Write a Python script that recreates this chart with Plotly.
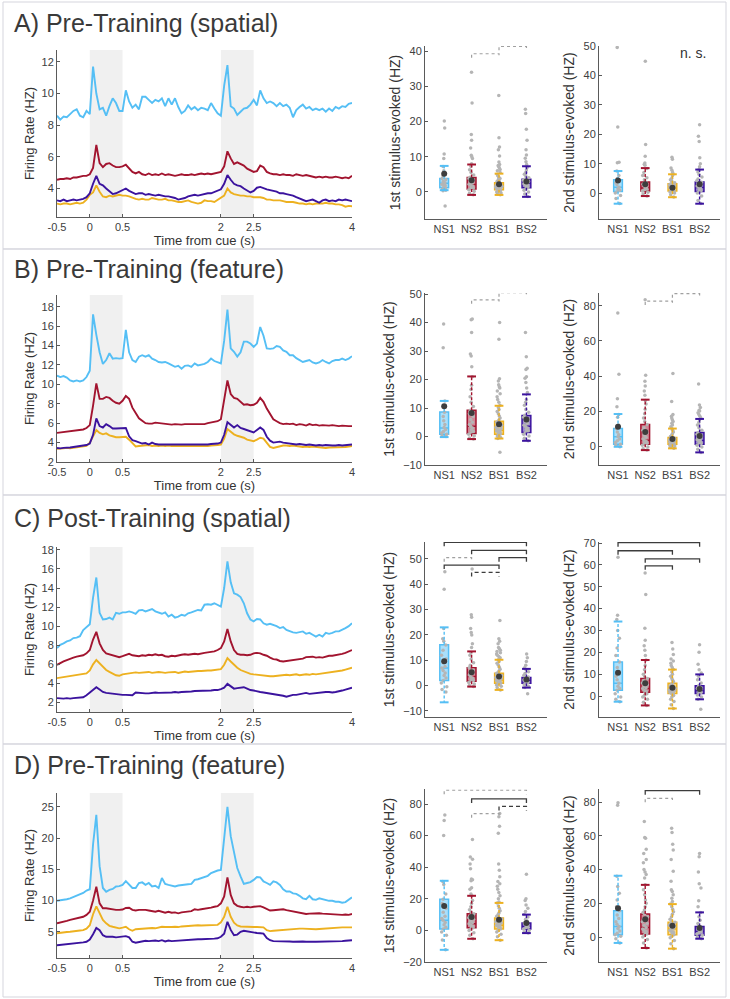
import numpy as np
import plotly.graph_objects as go

W, H = 730, 999
FONT = "Liberation Sans, Arial, sans-serif"

# ---- shared axes ----
time_s = np.round(np.arange(-0.5, 4.0001, 0.05), 2)
time_ticks = [-0.5, 0, 0.5, 2, 2.5, 4]
time_ticktext = ["-0.5", "0", "0.5", "2", "2.5", "4"]
cue_windows = [(0, 0.5), (2, 2.5)]
groups = ["NS1", "NS2", "BS1", "BS2"]
group_colors = ["#55BFF5", "#A2142F", "#EDB120", "#3B139E"]
group_fills = ["rgba(85,191,245,0.5)", "rgba(162,20,47,0.5)",
               "rgba(237,177,32,0.5)", "rgba(59,19,158,0.5)"]

# ---- firing rate traces (Hz), t = -0.5 .. 4 s ----
A_NS1 = [8.6, 8.35, 8.55, 8.5, 8.7, 8.9, 9.0, 8.6, 8.5, 8.9,
         8.7, 11.7, 10.0, 9.0, 9.1, 8.6, 9.2, 9.7, 9.4, 8.9,
         8.9, 10.2, 9.5, 9.1, 9.3, 9.0, 9.8, 9.8, 9.6, 9.4,
         9.6, 9.5, 9.7, 9.2, 9.7, 9.3, 9.7, 9.15, 8.75, 8.9,
         9.25, 9.0, 9.15, 8.95, 9.1, 9.05, 8.95, 9.4, 9.05, 8.75,
         8.6, 10.5, 11.8, 9.2, 9.05, 8.65, 8.85, 9.05, 9.1, 9.3,
         9.6, 9.25, 10.2, 9.7, 9.4, 9.5, 9.4, 9.2, 9.4, 9.2,
         9.3, 9.1, 8.5, 8.95, 9.15, 9.3, 9.05, 9.15, 8.95, 9.05,
         8.95, 9.05, 8.85, 9.05, 8.9, 9.15, 9.05, 9.2, 9.15, 9.35,
         9.4]
A_NS2 = [4.55, 4.6, 4.6, 4.65, 4.6, 4.7, 4.7, 4.75, 4.8, 4.8,
         4.9, 5.3, 6.75, 5.6, 5.35, 5.55, 5.6, 5.45, 5.35, 5.35,
         5.4, 5.5, 5.25, 5.05, 4.95, 5.05, 4.9, 4.85, 4.95, 4.85,
         4.9, 4.85, 4.95, 4.85, 4.9, 4.85, 4.8, 4.85, 4.9, 4.85,
         4.85, 4.9, 4.85, 4.9, 4.95, 4.9, 4.95, 4.9, 4.95, 5.0,
         5.05, 5.4, 6.35, 5.9, 5.55, 5.65, 5.55, 5.45, 5.25, 5.15,
         5.05, 5.1, 5.45, 5.35, 5.05, 4.95, 4.9, 4.9, 4.85, 4.9,
         4.85, 4.85, 4.8, 4.9, 4.85, 4.8, 4.85, 4.8, 4.75, 4.7,
         4.75, 4.7, 4.75, 4.7, 4.7, 4.75, 4.7, 4.65, 4.7, 4.65,
         4.8]
A_BS1 = [3.05, 3.0, 3.05, 3.05, 3.0, 3.05, 3.1, 3.05, 3.1, 3.3,
         3.6, 3.75, 4.2, 3.8, 3.5, 3.45, 3.55, 3.5, 3.55, 3.6,
         3.55, 3.55, 3.5, 3.4, 3.35, 3.3, 3.35, 3.3, 3.3, 3.4,
         3.35, 3.3, 3.3, 3.35, 3.25, 3.25, 3.2, 3.15, 3.15, 3.2,
         3.25, 3.15, 3.1, 3.05, 3.1, 3.25, 3.2, 3.2, 3.15, 3.3,
         3.4, 3.55, 4.0, 3.75, 3.65, 3.6, 3.55, 3.55, 3.5, 3.5,
         3.45, 3.45, 3.45, 3.4, 3.3, 3.3, 3.25, 3.25, 3.25, 3.2,
         3.15, 3.15, 3.15, 3.1, 3.05, 3.05, 3.0, 3.05, 3.0, 3.05,
         3.05, 3.05, 3.1, 3.05, 3.05, 3.0, 3.0, 2.95, 2.85, 2.9,
         2.88]
A_BS2 = [3.25, 3.2, 3.3, 3.2, 3.25, 3.3, 3.25, 3.3, 3.35, 3.45,
         3.7, 4.3, 4.8, 4.3, 4.2, 4.0, 3.85, 3.65, 3.7, 3.8,
         3.9, 4.0, 3.85, 3.75, 3.65, 3.7, 3.7, 3.6, 3.65, 3.6,
         3.55, 3.6, 3.55, 3.5, 3.5, 3.45, 3.4, 3.3, 3.35, 3.4,
         3.5, 3.55, 3.6, 3.55, 3.6, 3.65, 3.7, 3.7, 3.8, 3.85,
         3.95, 4.3, 4.85, 4.55, 4.3, 4.2, 4.15, 4.0, 3.85, 3.75,
         3.85, 4.05, 4.1, 4.0, 3.95, 3.9, 3.85, 3.8, 3.7, 3.7,
         3.65, 3.6, 3.55, 3.45, 3.35, 3.3, 3.2, 3.25, 3.3, 3.2,
         3.1, 3.25, 3.3, 3.2, 3.25, 3.2, 3.3, 3.25, 3.3, 3.25,
         3.2]

B_NS1 = [10.9, 10.75, 10.85, 10.7, 10.4, 10.3, 10.4, 10.3, 10.4, 10.75,
         11.4, 17.2, 15.1, 13.3, 12.1, 12.5, 13.2, 12.65, 12.7, 12.65,
         12.7, 15.6, 13.3, 12.5, 12.3, 12.85, 13.0, 12.85, 13.0, 12.65,
         12.5, 12.3, 12.25, 12.3, 12.15, 11.95, 11.8, 11.9, 11.6, 11.9,
         11.95, 11.8, 12.15, 11.95, 12.0, 12.1, 12.3, 12.65, 12.4, 12.25,
         12.15, 14.5, 17.7, 13.7, 13.35, 12.85, 13.3, 14.4, 14.4, 14.2,
         13.85, 14.2, 15.9, 15.0, 13.7, 13.65, 13.7, 13.95, 13.85, 13.5,
         13.35, 13.0, 13.0, 12.7, 12.5, 12.3, 12.4, 12.5, 12.25, 12.15,
         12.25, 12.5, 12.3, 12.15, 12.4, 12.5, 12.5, 12.65, 12.5, 12.65,
         12.9]
B_NS2 = [5.0, 5.05, 5.1, 5.1, 5.15, 5.2, 5.25, 5.3, 5.35, 5.5,
         5.8, 7.8, 10.1, 8.5, 8.5, 8.7, 8.6, 8.3, 8.1, 8.0,
         8.3, 8.8, 8.5, 7.6, 7.0, 6.5, 6.25, 6.0, 5.95, 5.95,
         6.05, 6.0, 5.95, 5.9, 5.85, 5.85, 5.9, 5.85, 5.85, 5.9,
         5.9, 5.95, 5.9, 5.9, 5.95, 5.9, 6.0, 6.05, 6.1, 6.2,
         6.4, 8.5, 10.4, 9.0, 8.6, 8.5, 8.2, 7.9, 7.95, 7.85,
         7.9, 8.1, 8.6, 8.2, 7.5, 6.9, 6.4, 6.2, 6.0, 5.9,
         5.95, 5.9, 5.95, 5.8, 5.9, 5.85, 5.75, 5.9, 5.8, 5.85,
         5.75, 5.8, 5.75, 5.75, 5.8, 5.75, 5.7, 5.75, 5.7, 5.7,
         5.7]
B_BS1 = [3.35, 3.35, 3.4, 3.45, 3.4, 3.45, 3.5, 3.5, 3.55, 3.65,
         4.0, 4.6, 5.3, 5.0, 4.85, 4.95, 4.75, 4.65, 4.55, 4.55,
         4.6, 4.6, 4.3, 3.9, 3.6, 3.65, 3.7, 3.7, 3.75, 3.65,
         3.7, 3.65, 3.7, 3.65, 3.7, 3.65, 3.65, 3.6, 3.65, 3.6,
         3.6, 3.65, 3.6, 3.65, 3.6, 3.65, 3.65, 3.7, 3.7, 3.75,
         3.8, 4.4, 5.4, 5.15, 4.85, 4.7, 4.6, 4.5, 4.3, 4.25,
         4.15, 4.3, 4.5, 4.4, 4.0, 3.55, 3.45, 3.55, 3.65, 3.7,
         3.7, 3.65, 3.7, 3.65, 3.6, 3.55, 3.6, 3.55, 3.6, 3.55,
         3.5, 3.5, 3.45, 3.5, 3.5, 3.55, 3.55, 3.5, 3.55, 3.6,
         3.65]
B_BS2 = [3.45, 3.4, 3.45, 3.45, 3.5, 3.55, 3.6, 3.65, 3.7, 3.75,
         3.9, 4.8, 6.5, 5.7, 5.55, 5.9, 5.7, 5.45, 5.45, 5.45,
         5.5, 5.5, 4.65, 4.25, 4.15, 4.05, 3.9, 3.95, 3.8, 4.0,
         3.85, 3.8, 3.8, 3.75, 3.8, 3.75, 3.75, 3.8, 3.75, 3.75,
         3.8, 3.75, 3.75, 3.8, 3.75, 3.8, 3.8, 3.85, 3.85, 3.9,
         4.0, 4.8, 6.1, 5.85, 5.55, 5.8, 5.5, 5.4, 5.3, 5.15,
         5.05, 5.3, 5.55, 5.3, 4.6, 4.2, 4.0, 4.05, 4.1, 4.0,
         3.95, 3.9, 3.85, 3.8, 3.85, 3.8, 3.75, 3.8, 3.75, 3.7,
         3.75, 3.7, 3.75, 3.7, 3.7, 3.7, 3.75, 3.7, 3.75, 3.75,
         3.8]

C_NS1 = [7.7, 8.05, 8.2, 8.4, 8.5, 8.75, 8.8, 8.95, 9.6, 9.9,
         10.2, 13.0, 15.1, 11.4, 10.7, 10.75, 10.9, 10.7, 11.4, 11.3,
         11.45, 11.45, 11.55, 11.45, 11.3, 11.65, 11.7, 11.55, 11.7, 11.8,
         11.55, 11.45, 11.3, 11.45, 11.0, 11.2, 10.9, 11.0, 11.2, 11.1,
         11.35, 11.45, 11.55, 11.7, 11.65, 12.25, 12.3, 12.25, 12.4, 12.25,
         12.05, 14.0, 16.8, 14.6, 13.45, 13.3, 13.05, 12.4, 11.35, 10.7,
         10.5, 10.75, 10.7, 10.3, 10.15, 10.25, 10.15, 10.0, 9.8, 9.9,
         9.6, 9.45, 9.35, 9.3, 9.35, 9.45, 9.2, 9.3, 9.1, 8.9,
         9.1, 8.9, 9.3, 9.2, 9.3, 9.45, 9.45, 9.6, 9.8, 10.0,
         10.3]
C_NS2 = [5.95, 6.15, 6.3, 6.45, 6.6, 6.7, 6.8, 6.85, 6.95, 7.15,
         7.5, 8.6, 9.4, 8.2, 7.5, 7.15, 7.05, 6.95, 6.8, 6.75,
         6.85, 7.0, 7.1, 6.95, 6.9, 6.85, 6.95, 6.9, 7.0, 6.95,
         7.05, 6.95, 7.0, 6.85, 6.8, 6.9, 6.85, 6.95, 7.0, 7.05,
         7.0, 7.05, 7.1, 7.05, 7.15, 7.2, 7.25, 7.3, 7.35, 7.5,
         7.7, 8.4, 9.7, 8.4, 7.5, 7.1, 7.0, 7.0, 6.95, 7.0,
         7.15, 7.2, 7.15, 7.0, 6.9, 6.7, 6.55, 6.5, 6.35, 6.3,
         6.35, 6.4, 6.4, 6.5, 6.55, 6.6, 6.75, 6.8, 6.8, 6.7,
         6.75, 6.7, 6.8, 6.9, 6.9, 6.95, 7.05, 7.1, 7.2, 7.35,
         7.5]
C_BS1 = [4.55, 4.6, 4.65, 4.75, 4.8, 4.85, 4.9, 4.9, 4.95, 5.05,
         5.35, 6.0, 6.45, 6.1, 5.75, 5.4, 5.2, 5.0, 4.85, 4.8,
         4.95, 5.0, 5.05, 5.1, 5.15, 5.1, 5.15, 5.15, 5.2, 5.1,
         5.15, 5.2, 5.15, 5.1, 5.15, 5.15, 5.2, 5.1, 5.2, 5.25,
         5.2, 5.25, 5.25, 5.3, 5.3, 5.35, 5.35, 5.35, 5.4, 5.4,
         5.5, 5.95, 6.65, 6.3, 5.95, 5.65, 5.4, 5.25, 5.1, 5.0,
         4.95, 4.9, 4.9, 4.85, 4.8, 4.75, 4.75, 4.8, 4.85, 4.85,
         4.9, 4.85, 4.9, 4.95, 4.85, 4.9, 4.95, 4.9, 5.0, 4.95,
         5.0, 5.05, 5.1, 5.1, 5.2, 5.25, 5.3, 5.35, 5.45, 5.55,
         5.65]
C_BS2 = [2.45, 2.4, 2.4, 2.45, 2.4, 2.45, 2.5, 2.5, 2.55, 2.75,
         3.05, 3.35, 3.6, 3.35, 3.1, 3.0, 2.95, 2.9, 2.9, 2.85,
         2.8, 2.8, 2.8, 2.75, 3.05, 3.0, 3.0, 2.95, 2.95, 3.0,
         3.05, 3.0, 3.0, 3.05, 3.05, 3.05, 3.1, 3.05, 3.1, 3.1,
         3.15, 3.15, 3.2, 3.2, 3.25, 3.2, 3.2, 3.25, 3.3, 3.3,
         3.4, 3.55, 3.95, 3.7, 3.45, 3.5, 3.55, 3.6, 3.45, 3.3,
         3.25, 3.15, 3.1, 3.05, 3.0, 2.95, 2.9, 2.85, 2.75, 2.7,
         2.6, 2.7, 2.8, 2.8, 2.85, 2.95, 3.0, 2.9, 2.95, 3.0,
         3.0, 3.05, 3.1, 3.1, 3.05, 3.1, 3.15, 3.25, 3.35, 3.45,
         3.55]

D_NS1 = [9.95, 10.0, 10.1, 10.2, 10.35, 10.55, 10.75, 11.0, 11.2, 11.6,
         11.8, 19.0, 23.7, 15.5, 12.0, 11.4, 11.7, 11.85, 12.25, 12.3,
         12.5, 13.1, 12.5, 12.0, 12.0, 12.8, 12.9, 12.5, 12.8, 12.25,
         12.35, 12.0, 13.6, 12.65, 12.5, 12.4, 12.25, 12.4, 12.5, 12.5,
         12.6, 12.65, 13.3, 13.4, 13.6, 13.75, 13.95, 14.4, 14.65, 14.8,
         14.9, 19.5, 25.0, 20.3, 17.6, 15.2, 13.85, 12.65, 12.8, 12.95,
         13.3, 13.75, 13.7, 13.05, 12.8, 12.5, 13.05, 12.9, 12.5, 11.8,
         11.45, 11.45, 11.15, 11.05, 10.75, 10.35, 10.2, 10.75, 10.2, 10.1,
         10.35, 10.2, 10.0, 9.95, 9.95, 9.8, 9.8, 9.65, 9.75, 10.1,
         10.5]
D_NS2 = [6.35, 6.45, 6.6, 6.75, 6.9, 7.0, 7.15, 7.3, 7.4, 7.7,
         8.2, 10.0, 12.2, 9.55, 8.75, 8.75, 8.65, 8.5, 8.5, 8.5,
         8.55, 8.8, 8.85, 8.5, 8.4, 8.5, 8.55, 8.5, 8.4, 8.35,
         8.2, 8.35, 8.2, 8.05, 8.2, 8.05, 8.1, 7.95, 8.1, 8.2,
         8.2, 8.3, 8.6, 8.5, 8.6, 8.65, 8.75, 8.85, 9.0, 9.1,
         9.55, 10.65, 13.7, 10.9, 9.55, 9.15, 9.0, 8.9, 9.0, 8.9,
         9.0, 9.1, 9.1, 8.9, 8.65, 8.4, 8.45, 8.5, 8.55, 8.6,
         8.45, 8.35, 8.2, 8.15, 8.05, 7.95, 7.85, 7.9, 7.95, 7.9,
         7.95, 7.9, 7.85, 7.85, 7.8, 7.8, 7.75, 7.7, 7.75, 7.7,
         7.85]
D_BS1 = [4.75, 4.85, 4.9, 4.95, 5.0, 5.1, 5.15, 5.2, 5.25, 5.5,
         6.05, 7.8, 9.05, 7.95, 6.9, 6.35, 5.95, 5.8, 5.65, 5.55,
         5.65, 5.8, 5.4, 5.15, 5.4, 5.45, 5.55, 5.6, 5.65, 5.6,
         5.55, 5.65, 5.8, 5.75, 5.7, 5.75, 5.8, 5.75, 5.85, 5.9,
         5.9, 5.95, 6.0, 6.05, 6.0, 6.0, 6.05, 6.0, 6.05, 6.1,
         6.5, 7.4, 9.0, 7.4, 6.45, 6.0, 5.85, 5.8, 5.75, 5.8,
         5.75, 5.75, 5.7, 5.7, 5.25, 5.1, 5.15, 5.2, 5.3, 5.35,
         5.4, 5.35, 5.4, 5.45, 5.5, 5.5, 5.45, 5.4, 5.35, 5.4,
         5.45, 5.5, 5.55, 5.6, 5.65, 5.6, 5.65, 5.7, 5.7, 5.7,
         5.7]
D_BS2 = [2.85, 2.9, 2.95, 3.0, 3.05, 3.1, 3.1, 3.2, 3.3, 3.4,
         3.75, 4.6, 5.6, 5.25, 4.45, 4.2, 4.25, 4.2, 4.1, 4.15,
         4.15, 4.3, 4.1, 3.4, 3.25, 3.35, 3.45, 3.55, 3.5, 3.55,
         3.6, 3.5, 3.65, 3.45, 3.6, 3.5, 3.55, 3.6, 3.65, 3.7,
         3.75, 3.75, 3.75, 3.8, 3.8, 3.8, 3.8, 3.85, 3.9, 3.95,
         4.2, 4.7, 6.6, 5.3, 4.45, 4.55, 5.0, 5.15, 5.05, 4.9,
         4.85, 4.8, 4.75, 4.7, 4.0, 3.65, 3.5, 3.5, 3.55, 3.5,
         3.45, 3.45, 3.4, 3.45, 3.45, 3.45, 3.4, 3.45, 3.4, 3.4,
         3.4, 3.4, 3.4, 3.45, 3.4, 3.4, 3.4, 3.5, 3.55, 3.6,
         3.65]

# ---- stimulus-evoked box summaries (Hz), order NS1, NS2, BS1, BS2 ----
A1_lo = [0.5, -0.85, -0.85, -1.4]
A1_q1 = [1.2, 0.85, 0.65, 1.2]
A1_med = [2.5, 2.1, 1.6, 2.5]
A1_q3 = [3.8, 4.1, 2.6, 3.6]
A1_hi = [7.4, 7.8, 5.2, 7.3]
A1_mean = [5.2, 3.3, 2.2, 3.0]
A1_points = [
    [20.2, 18.2, 10.8, 9.5, -4.0, 7.2, 6.0, 5.2, 4.5, 3.8, 3.5, 3.0, 2.6, 2.2, 2.0, 1.8, 1.5, 1.2, 1.0, 0.8, 0.5, 0.3],
    [34.0, 25.3, 16.3, 14.7, 12.5, 10.4, 10.0, 9.5, 8.0, 7.2, 6.3, 5.5, 4.8, 4.2, 3.8, 3.4, 3.0, 2.6, 2.2, 2.0,
     1.7, 1.4, 1.1, 0.9, 0.6, 0.2, -0.4, -0.8],
    [27.4, 15.4, 12.8, 12.0, 10.2, 8.5, 7.8, 7.5, 7.2, 6.8, 6.4, 6.0, 5.5, 5.0, 4.6, 4.2, 3.8, 3.5, 3.2, 3.0, 2.8,
     2.6, 2.4, 2.2, 2.0, 1.9, 1.8, 1.6, 1.5, 1.4, 1.3, 1.1, 1.0, 0.9, 0.8, 0.7, 0.6, 0.4, 0.2, 0.0, -0.3, -0.6, -0.8],
    [23.5, 22.3, 17.8, 14.7, 12.0, 10.5, 9.6, 8.6, 7.8, 7.0, 6.2, 5.5, 5.0, 4.5, 4.0, 3.6, 3.3, 3.0, 2.7, 2.5, 2.3,
     2.0, 1.8, 1.5, 1.2, 0.9, 0.5, 0.0, -0.6, -1.3],
]
A1_brackets = [(1, 2, 39.3, "dot"), (2, 3, 41.4, "dot")]

A2_lo = [-3.6, -1.0, -1.4, -3.6]
A2_q1 = [0.55, 0.7, 0.7, 0.55]
A2_med = [2.0, 1.7, 1.7, 1.9]
A2_q3 = [4.55, 3.75, 3.2, 3.75]
A2_hi = [7.5, 8.5, 6.4, 8.0]
A2_mean = [4.3, 3.0, 1.8, 3.0]
A2_points = [
    [49.5, 22.5, 10.5, 10.3, 7.5, 6.0, 5.0, 4.5, 3.5, 2.8, 2.0, 1.5, 1.0, 0.5, 0.0, -0.8, -1.8, -3.5],
    [44.8, 16.5, 12.5, 10.2, 9.8, 9.5, 8.4, 7.0, 6.0, 5.2, 4.5, 3.7, 3.0, 2.5, 2.0, 1.7, 1.4, 1.0, 0.7, 0.3,
     -0.3, -1.0],
    [12.2, 11.5, 8.5, 7.8, 7.0, 6.4, 5.8, 5.0, 4.5, 4.0, 3.5, 3.2, 2.8, 2.5, 2.2, 2.0, 1.8, 1.6, 1.4, 1.1, 0.9,
     0.7, 0.4, 0.0, -0.6, -1.3],
    [23.2, 19.3, 17.5, 12.0, 10.0, 9.0, 8.0, 7.2, 6.3, 5.5, 4.8, 4.2, 3.7, 3.2, 2.8, 2.4, 2.0, 1.6, 1.2, 0.8,
     0.5, 0.0, -1.0, -2.5, -3.5],
]
A2_brackets = []

B1_lo = [-0.2, -0.9, -0.7, -1.5]
B1_q1 = [0.8, 1.05, 0.8, 1.4]
B1_med = [3.0, 3.6, 2.2, 3.6]
B1_q3 = [8.6, 9.2, 5.4, 7.4]
B1_hi = [12.5, 21.1, 10.8, 14.8]
B1_mean = [10.6, 8.3, 4.3, 6.0]
B1_points = [
    [39.5, 31.2, 12.5, 10.5, 8.5, 7.0, 5.5, 4.2, 3.2, 2.5, 1.8, 1.2, 0.8, 0.3, 0.0],
    [41.3, 41.0, 36.5, 29.0, 28.3, 24.5, 21.0, 18.0, 16.5, 14.0, 12.0, 10.5, 9.2, 8.0, 7.0, 6.0, 5.0, 4.2, 3.6,
     3.0, 2.4, 1.8, 1.2, 0.8, 0.3, -0.5, -0.9],
    [40.0, 34.2, 20.3, 19.5, 18.2, 17.5, 17.0, 16.0, 15.0, 14.0, 13.0, 12.0, 11.0, 10.2, 9.5, 8.8, 8.0, 7.2, 6.5,
     5.8, 5.4, 5.0, 4.5, 4.0, 3.6, 3.2, 2.8, 2.5, 2.2, 2.0, 1.7, 1.4, 1.1, 0.8, 0.5, 0.2, -0.3, -0.7, -5.5],
    [36.5, 28.0, 24.0, 23.5, 21.0, 20.5, 19.0, 17.0, 15.5, 13.0, 12.0, 11.0, 9.5, 8.5, 7.5, 6.8, 6.0, 5.3, 4.6,
     4.0, 3.6, 3.0, 2.5, 2.0, 1.4, 0.8, 0.2, -0.6, -1.5],
]
B1_brackets = [(1, 2, 48.0, "dot"), (2, 3, 50.5, "dot")]

B2_lo = [-0.4, -2.3, -1.3, -3.6]
B2_q1 = [1.1, 1.1, 1.1, 1.1]
B2_med = [5.3, 3.4, 2.5, 3.2]
B2_q3 = [10.0, 12.3, 4.9, 7.8]
B2_hi = [18.3, 26.5, 10.0, 15.5]
B2_mean = [11.0, 8.1, 4.0, 5.7]
B2_points = [
    [76.0, 41.0, 27.0, 22.5, 18.0, 16.5, 12.0, 10.0, 8.0, 6.5, 5.3, 4.0, 3.0, 2.0, 1.1, 0.5, -0.4],
    [83.5, 40.5, 37.0, 34.3, 31.5, 29.0, 26.0, 24.0, 21.0, 18.5, 16.0, 14.0, 12.3, 10.5, 9.0, 7.5, 6.2, 5.0, 4.0,
     3.4, 2.8, 2.2, 1.6, 1.1, 0.5, -0.5, -1.5, -2.3],
    [41.5, 25.5, 18.0, 17.0, 16.0, 15.0, 14.0, 13.0, 12.0, 11.0, 10.0, 9.0, 8.0, 7.0, 6.2, 5.5, 4.9, 4.4, 4.0,
     3.5, 3.0, 2.7, 2.5, 2.2, 1.9, 1.6, 1.3, 1.1, 0.8, 0.4, 0.0, -0.6, -1.3],
    [35.5, 23.5, 22.0, 20.5, 20.0, 19.0, 18.0, 17.0, 16.0, 15.0, 13.5, 12.0, 10.5, 9.0, 7.8, 6.8, 5.8, 5.0, 4.2,
     3.6, 3.2, 2.6, 2.0, 1.5, 1.1, 0.5, -0.5, -1.8, -3.6],
]
B2_brackets = [(1, 2, 82.8, "dot"), (2, 3, 87.0, "dot")]

C1_lo = [-6.6, -0.4, -1.7, -0.8]
C1_q1 = [2.0, 1.7, 0.9, 0.9]
C1_med = [6.9, 3.6, 2.2, 2.0]
C1_q3 = [16.1, 7.0, 4.9, 3.2]
C1_hi = [23.0, 13.5, 10.2, 6.6]
C1_mean = [9.6, 5.3, 3.6, 2.4]
C1_points = [
    [45.0, 38.0, 22.5, 18.5, 17.5, 16.0, 14.0, 12.0, 10.5, 9.0, 7.5, 6.9, 6.0, 5.0, 4.0, 3.0, 2.0, 1.0, -0.5,
     -1.5, -2.5],
    [46.0, 28.0, 27.0, 22.5, 21.0, 20.0, 16.5, 15.0, 13.0, 12.0, 10.5, 9.0, 8.0, 7.0, 6.2, 5.5, 4.8, 4.2, 3.6,
     3.0, 2.5, 2.0, 1.7, 1.2, 0.6, 0.0, -0.4],
    [25.7, 18.5, 17.5, 16.5, 15.0, 14.5, 14.0, 13.5, 13.0, 12.5, 12.0, 11.5, 11.0, 10.2, 9.5, 8.8, 8.0, 7.2, 6.5,
     5.8, 5.2, 4.9, 4.5, 4.0, 3.6, 3.2, 2.8, 2.5, 2.2, 2.0, 1.7, 1.4, 1.1, 0.9, 0.6, 0.2, -0.3, -0.8, -1.7],
    [12.5, 11.0, 9.5, 8.0, 7.0, 6.4, 5.5, 4.8, 4.0, 3.4, 3.0, 2.6, 2.2, 2.0, 1.7, 1.4, 1.1, 0.8, 0.3, -0.3, -0.8,
     -3.2],
]
C1_brackets = [(0, 3, 56.6, "solid"), (1, 3, 53.4, "solid"), (0, 1, 50.5, "dot"),
               (2, 3, 50.5, "solid"), (0, 2, 47.6, "solid"), (1, 2, 44.7, "dash")]

C2_lo = [-2.6, -4.3, -5.7, -1.5]
C2_q1 = [2.6, 1.7, 1.1, 1.1]
C2_med = [5.8, 3.4, 2.75, 2.4]
C2_q3 = [15.6, 8.0, 5.8, 4.7]
C2_hi = [34.1, 16.5, 12.1, 9.9]
C2_mean = [10.7, 5.8, 3.8, 3.2]
C2_points = [
    [63.5, 37.0, 35.0, 30.0, 26.5, 22.0, 18.5, 15.6, 13.0, 11.0, 9.0, 7.5, 5.8, 4.5, 3.5, 2.6, 1.0, -0.5, -1.5,
     -2.6],
    [56.3, 46.5, 31.0, 25.5, 23.0, 21.0, 18.5, 16.5, 14.0, 12.0, 10.0, 8.8, 8.0, 7.0, 6.0, 5.2, 4.4, 3.8, 3.4,
     2.8, 2.2, 1.7, 1.0, 0.3, -0.5, -1.5, -2.8, -4.3],
    [24.5, 21.5, 19.0, 17.0, 16.0, 15.0, 14.0, 13.0, 12.1, 11.0, 10.0, 9.0, 8.0, 7.2, 6.5, 5.8, 5.2, 4.6, 4.0,
     3.6, 3.2, 2.8, 2.5, 2.2, 1.9, 1.6, 1.3, 1.1, 0.7, 0.2, -0.5, -1.5, -2.5, -4.0, -5.7],
    [23.5, 20.0, 14.5, 12.0, 10.5, 9.0, 7.5, 6.0, 4.7, 4.0, 3.4, 2.8, 2.4, 2.0, 1.6, 1.1, 0.5, -0.5, -1.5, -6.0],
]
C2_brackets = [(0, 3, 70.2, "solid"), (0, 2, 66.5, "solid"), (1, 3, 62.8, "solid"), (1, 2, 59.6, "solid")]

D1_lo = [-12.3, -5.3, -6.2, -1.7]
D1_q1 = [0.85, 1.7, 0.85, 0.85]
D1_med = [6.4, 4.2, 3.2, 2.5]
D1_q3 = [19.7, 10.6, 7.9, 4.7]
D1_hi = [31.4, 21.9, 17.4, 10.0]
D1_mean = [15.5, 8.5, 6.8, 4.7]
D1_points = [
    [73.0, 69.5, 60.0, 31.0, 29.0, 23.0, 19.7, 17.0, 14.0, 11.5, 9.0, 7.5, 6.4, 5.0, 3.5, 2.0, 0.85, -1.0, -3.0,
     -6.0, -12.3],
    [57.5, 46.5, 45.0, 42.0, 39.0, 32.5, 32.0, 31.5, 27.0, 26.0, 23.0, 21.9, 19.0, 17.0, 15.0, 13.0, 11.5, 10.6,
     9.0, 8.0, 7.0, 6.0, 5.0, 4.2, 3.5, 2.8, 2.2, 1.7, 1.0, 0.0, -1.5, -3.0, -5.3],
    [74.0, 72.0, 66.0, 61.5, 42.0, 38.0, 34.0, 31.0, 29.5, 28.0, 26.0, 24.0, 22.0, 20.0, 18.0, 17.4, 15.5, 14.0,
     12.5, 11.0, 10.0, 9.0, 8.0, 7.2, 6.4, 5.5, 4.8, 4.2, 3.6, 3.2, 2.6, 2.0, 1.5, 0.85, 0.0, -1.0, -2.5, -4.0,
     -6.2],
    [35.5, 20.0, 19.0, 16.0, 14.0, 12.0, 10.0, 8.5, 7.0, 6.0, 4.7, 4.0, 3.3, 2.5, 2.0, 1.5, 0.85, 0.0, -1.0, -1.7],
]
D1_brackets = [(0, 3, 88.7, "dot"), (1, 3, 83.2, "solid"), (2, 3, 78.5, "dash"), (1, 2, 73.9, "dot")]

D2_lo = [-3.5, -6.5, -6.9, -1.0]
D2_q1 = [1.4, 1.8, 1.4, 1.0]
D2_med = [6.3, 5.7, 4.7, 3.3]
D2_q3 = [15.6, 13.6, 8.7, 6.3]
D2_hi = [36.3, 30.9, 19.5, 14.6]
D2_mean = [17.1, 10.6, 6.7, 5.3]
D2_points = [
    [79.5, 78.0, 36.0, 30.0, 26.0, 22.0, 18.0, 15.6, 13.0, 11.0, 9.0, 7.5, 6.3, 5.0, 3.5, 2.2, 1.4, 0.5, -1.0,
     -3.5],
    [68.5, 59.0, 58.5, 52.0, 49.5, 46.0, 44.0, 40.0, 38.5, 37.0, 35.0, 30.9, 28.0, 25.0, 22.0, 20.0, 18.0, 16.0,
     14.5, 13.6, 12.0, 10.5, 9.0, 8.0, 7.0, 5.7, 4.8, 4.0, 3.2, 2.5, 1.8, 1.0, 0.0, -1.5, -3.5, -6.5],
    [64.5, 62.0, 55.0, 51.5, 46.0, 39.0, 33.0, 28.0, 27.0, 25.0, 23.0, 21.0, 19.5, 18.0, 16.5, 15.0, 13.5, 12.0,
     10.5, 9.5, 8.7, 8.0, 7.0, 6.2, 5.5, 4.7, 4.0, 3.4, 2.8, 2.2, 1.4, 0.5, -0.5, -2.0, -4.0, -6.9],
    [49.5, 47.5, 38.5, 31.5, 29.0, 21.5, 18.0, 14.6, 12.0, 10.0, 8.0, 6.3, 5.0, 4.0, 3.3, 2.5, 1.8, 1.0, 0.0,
     -1.0],
]
D2_brackets = [(1, 3, 86.7, "solid"), (1, 2, 82.2, "dot")]

bracket_styles = {
    "dot": dict(color="#a0a0a0", dash="dot", width=1.2),
    "solid": dict(color="#3c3c3c", dash="solid", width=1.3),
    "dash": dict(color="#3c3c3c", dash="4px,3px", width=1.3),
}

# ---- layout geometry (pixels) ----
line_x_px = (57, 352)
box_x_px = [(425, 547), (599, 720)]
box_xrange = [-0.7, 3.75]
BOX_W = 0.32

panels = [
    dict(title="A) Pre-Training (spatial)", title_y=23, frame=(2, 249),
         lines=[A_NS1, A_NS2, A_BS1, A_BS2], line_y=(50, 217), line_range=[2.2, 12.75],
         line_ticks=[4, 6, 8, 10, 12], box_y=(46, 219),
         boxes=[dict(stats=(A1_lo, A1_q1, A1_med, A1_q3, A1_hi), mean=A1_mean, pts=A1_points,
                     brackets=A1_brackets, yrange=[-7.7, 41.5], yticks=[0, 10, 20, 30, 40]),
                dict(stats=(A2_lo, A2_q1, A2_med, A2_q3, A2_hi), mean=A2_mean, pts=A2_points,
                     brackets=A2_brackets, yrange=[-8.8, 50], yticks=[0, 10, 20, 30, 40, 50],
                     note=("n. s.", 2.75, 47.5))]),
    dict(title="B) Pre-Training (feature)", title_y=269, frame=(249, 495),
         lines=[B_NS1, B_NS2, B_BS1, B_BS2], line_y=(295, 462), line_range=[2, 19.2],
         line_ticks=[2, 4, 6, 8, 10, 12, 14, 16, 18], box_y=(293, 465),
         boxes=[dict(stats=(B1_lo, B1_q1, B1_med, B1_q3, B1_hi), mean=B1_mean, pts=B1_points,
                     brackets=B1_brackets, yrange=[-10, 50.4], yticks=[-10, 0, 10, 20, 30, 40, 50]),
                dict(stats=(B2_lo, B2_q1, B2_med, B2_q3, B2_hi), mean=B2_mean, pts=B2_points,
                     brackets=B2_brackets, yrange=[-10.8, 87.4], yticks=[0, 20, 40, 60, 80])]),
    dict(title="C) Post-Training (spatial)", title_y=518, frame=(495, 744),
         lines=[C_NS1, C_NS2, C_BS1, C_BS2], line_y=(547, 712), line_range=[1.0, 18.3],
         line_ticks=[2, 4, 6, 8, 10, 12, 14, 16, 18], box_y=(542, 717),
         boxes=[dict(stats=(C1_lo, C1_q1, C1_med, C1_q3, C1_hi), mean=C1_mean, pts=C1_points,
                     brackets=C1_brackets, yrange=[-12.4, 56.7], yticks=[-10, 0, 10, 20, 30, 40, 50]),
                dict(stats=(C2_lo, C2_q1, C2_med, C2_q3, C2_hi), mean=C2_mean, pts=C2_points,
                     brackets=C2_brackets, yrange=[-9.6, 70.5], yticks=[0, 10, 20, 30, 40, 50, 60, 70])]),
    dict(title="D) Pre-Training (feature)", title_y=765, frame=(744, 997),
         lines=[D_NS1, D_NS2, D_BS1, D_BS2], line_y=(793, 958), line_range=[0.8, 27.2],
         line_ticks=[5, 10, 15, 20, 25], box_y=(789, 962),
         boxes=[dict(stats=(D1_lo, D1_q1, D1_med, D1_q3, D1_hi), mean=D1_mean, pts=D1_points,
                     brackets=D1_brackets, yrange=[-20, 89.5], yticks=[-20, 0, 20, 40, 60, 80]),
                dict(stats=(D2_lo, D2_q1, D2_med, D2_q3, D2_hi), mean=D2_mean, pts=D2_points,
                     brackets=D2_brackets, yrange=[-14.8, 87.7], yticks=[0, 20, 40, 60, 80])]),
]
box_titles = ["1st stimulus-evoked (HZ)", "2nd stimulus-evoked (HZ)"]

TXT = "#404040"
AX = "#5a5a5a"
tick_font = dict(family=FONT, size=11, color=TXT)


def ax_ids(k):
    s = "" if k == 1 else str(k)
    return "x" + s, "y" + s, "xaxis" + s, "yaxis" + s


def xdom(a, b):
    return [a / W, b / W]


def ydom(top, bottom):
    return [1 - bottom / H, 1 - top / H]


fig = go.Figure()
layout_axes = {}
shapes = []
annotations = []

for p, panel in enumerate(panels):
    # frame around the panel
    y0, y1 = panel["frame"]
    shapes.append(dict(type="rect", xref="paper", yref="paper", x0=3 / W, x1=726 / W,
                       y0=1 - y1 / H, y1=1 - y0 / H, line=dict(color="#d5d5dd", width=1),
                       fillcolor="rgba(0,0,0,0)", layer="below"))
    annotations.append(dict(text=panel["title"], xref="paper", yref="paper", x=12 / W,
                            y=1 - panel["title_y"] / H, xanchor="left", yanchor="middle",
                            showarrow=False, font=dict(family=FONT, size=25, color="#3a3a3a")))

    # firing-rate time course
    k = p * 3 + 1
    xa, ya, xkey, ykey = ax_ids(k)
    for c0, c1 in cue_windows:
        shapes.append(dict(type="rect", xref=xa, yref=ya + " domain", x0=c0, x1=c1, y0=0, y1=1,
                           fillcolor="#f0f0f0", line=dict(width=0), layer="below"))
    for g, series in enumerate(panel["lines"]):
        fig.add_trace(go.Scatter(x=time_s, y=series, mode="lines", xaxis=xa, yaxis=ya,
                                 line=dict(color=group_colors[g], width=1.9), name=groups[g],
                                 showlegend=False, hoverinfo="skip"))
    layout_axes[xkey] = dict(domain=xdom(*line_x_px), anchor=ya, range=[-0.5, 4], automargin=False,
                             tickvals=time_ticks, ticktext=time_ticktext, ticks="inside", ticklen=3,
                             tickcolor=AX, showline=True, linecolor=AX, linewidth=1, showgrid=False,
                             zeroline=False, tickfont=tick_font,
                             title=dict(text="Time from cue (s)", standoff=1,
                                        font=dict(family=FONT, size=13, color="#333")))
    layout_axes[ykey] = dict(domain=ydom(*panel["line_y"]), anchor=xa, range=panel["line_range"],
                             automargin=False,
                             tickvals=panel["line_ticks"], ticks="inside", ticklen=3, tickcolor=AX,
                             showline=True, linecolor=AX, linewidth=1, showgrid=False, zeroline=False,
                             tickfont=tick_font,
                             title=dict(text="Firing Rate (HZ)", standoff=3,
                                        font=dict(family=FONT, size=13, color="#333")))

    # stimulus-evoked box plots
    for j, bx in enumerate(panel["boxes"]):
        k = p * 3 + 2 + j
        xa, ya, xkey, ykey = ax_ids(k)
        lo, q1, med, q3, hi = bx["stats"]
        for g in range(4):
            # dashed whiskers with solid caps, MATLAB boxplot style
            fig.add_trace(go.Scatter(x=[g, g, None, g, g], y=[q3[g], hi[g], None, q1[g], lo[g]],
                                     mode="lines", xaxis=xa, yaxis=ya,
                                     line=dict(color=group_colors[g], width=1.4, dash="3px,2px"),
                                     showlegend=False, hoverinfo="skip"))
            fig.add_trace(go.Scatter(x=[g - BOX_W / 2, g + BOX_W / 2, None, g - BOX_W / 2, g + BOX_W / 2],
                                     y=[hi[g], hi[g], None, lo[g], lo[g]], mode="lines", xaxis=xa, yaxis=ya,
                                     line=dict(color=group_colors[g], width=2),
                                     showlegend=False, hoverinfo="skip"))
            fig.add_trace(go.Box(x=[g], q1=[q1[g]], median=[med[g]], q3=[q3[g]],
                                 lowerfence=[q1[g]], upperfence=[q3[g]], width=BOX_W, whiskerwidth=0,
                                 fillcolor=group_fills[g], line=dict(color=group_colors[g], width=1.5),
                                 boxpoints=False, xaxis=xa, yaxis=ya, showlegend=False, hoverinfo="skip"))
            fig.add_trace(go.Box(x=[g] * len(bx["pts"][g]), y=bx["pts"][g], boxpoints="all", jitter=0.8,
                                 pointpos=0, width=BOX_W, fillcolor="rgba(0,0,0,0)",
                                 line=dict(color="rgba(0,0,0,0)", width=0),
                                 marker=dict(color="#b5b5b5", size=3.5), xaxis=xa, yaxis=ya,
                                 showlegend=False, hoverinfo="skip"))
        fig.add_trace(go.Scatter(x=list(range(4)), y=bx["mean"], mode="markers", xaxis=xa, yaxis=ya,
                                 marker=dict(color="#3d3d3d", size=6), showlegend=False, hoverinfo="skip"))

        top_px, bot_px = panel["box_y"]
        tick = 4 * (bx["yrange"][1] - bx["yrange"][0]) / (bot_px - top_px)
        for a, b, yv, style in bx["brackets"]:
            fig.add_trace(go.Scatter(x=[a, a, b, b], y=[yv - tick, yv, yv, yv - tick], mode="lines",
                                     xaxis=xa, yaxis=ya, line=bracket_styles[style], cliponaxis=False,
                                     showlegend=False, hoverinfo="skip"))
        if "note" in bx:
            txt, nx, ny = bx["note"]
            annotations.append(dict(text=txt, xref=xa, yref=ya, x=nx, y=ny, showarrow=False,
                                    font=dict(family=FONT, size=14, color="#333")))

        layout_axes[xkey] = dict(domain=xdom(*box_x_px[j]), anchor=ya, range=box_xrange, automargin=False,
                                 tickvals=[0, 1, 2, 3], ticktext=groups, ticks="", showline=True,
                                 linecolor=AX, linewidth=1, showgrid=False, zeroline=False,
                                 tickfont=tick_font)
        layout_axes[ykey] = dict(domain=ydom(top_px, bot_px), anchor=xa, range=bx["yrange"],
                                 automargin=False,
                                 tickvals=bx["yticks"], ticks="inside", ticklen=3, tickcolor=AX,
                                 showline=True, linecolor=AX, linewidth=1, showgrid=False,
                                 zeroline=False, tickfont=tick_font,
                                 title=dict(text=box_titles[j], standoff=5,
                                            font=dict(family=FONT, size=14, color="#333")))

fig.update_layout(
    width=W, height=H,
    margin=dict(l=0, r=0, t=0, b=0, autoexpand=False),
    paper_bgcolor="white", plot_bgcolor="white",
    showlegend=False, boxmode="overlay",
    font=dict(family=FONT, color=TXT),
    shapes=shapes, annotations=annotations,
    **layout_axes,
)

# the page body has a default 8px margin; drop it so the figure sits at the window origin
fig.write_html("out.html", config={"displayModeBar": False},
               post_script="document.body.style.margin='0';")
